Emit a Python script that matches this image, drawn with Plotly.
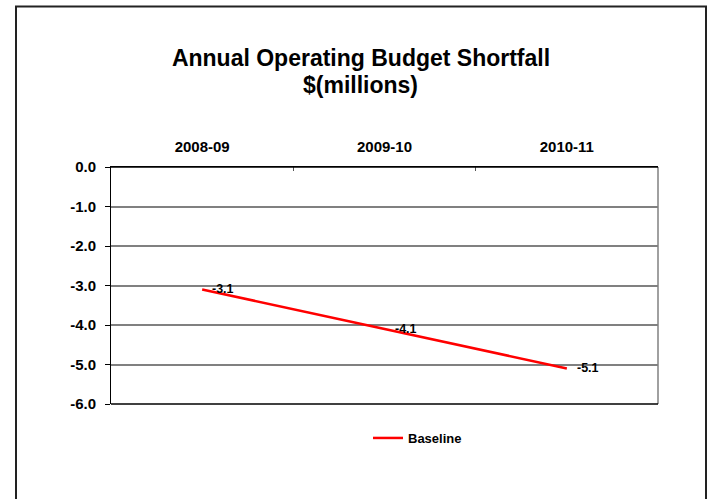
import plotly.graph_objects as go

# Budget shortfall by fiscal year, $ millions
years = ["2008-09", "2009-10", "2010-11"]
baseline = [-3.1, -4.1, -5.1]
y_ticks = [0, -1, -2, -3, -4, -5, -6]
y_tick_text = ["0.0", "-1.0", "-2.0", "-3.0", "-4.0", "-5.0", "-6.0"]

W, H = 713, 499
L, R, T, B = 111, 55, 167, 95
pw, ph = W - L - R, H - T - B

def px_x(x):
    return (x - L) / pw

def px_y(y):
    return (H - B - y) / ph

font = "Liberation Sans, Arial, sans-serif"

fig = go.Figure()
fig.add_trace(go.Scatter(
    x=years, y=baseline, mode="lines", name="Baseline",
    line=dict(color="#ff0000", width=2.5),
    cliponaxis=False,
))

# value labels to the right of each point
value_labels = [
    dict(text=f"<b>{v:.1f}</b>", x=c, y=v, xref="x", yref="y",
         xanchor="left", yanchor="middle", xshift=8, showarrow=False,
         font=dict(family=font, size=12.5, color="black"))
    for c, v in zip(years, baseline)
]

fig.update_layout(
    width=W, height=H,
    margin=dict(l=L, r=R, t=T, b=B),
    paper_bgcolor="white", plot_bgcolor="white",
    font=dict(family=font, color="black"),
    title=dict(
        text="<b>Annual Operating Budget Shortfall</b>",
        x=361 / W, xref="container", xanchor="center",
        y=1 - 58 / H, yref="container", yanchor="middle",
        font=dict(family=font, size=23, color="black"),
    ),
    annotations=[
        dict(text="<b>$(millions)</b>", xref="paper", yref="paper",
             x=px_x(360), y=px_y(85), xanchor="center", yanchor="middle",
             showarrow=False, font=dict(family=font, size=23, color="black")),
    ] + value_labels,
    showlegend=True,
    legend=dict(
        orientation="h", x=px_x(368), xanchor="left",
        y=px_y(438), yanchor="middle",
        font=dict(family=font, size=13, color="black", weight="bold"),
        itemwidth=30,
    ),
    xaxis=dict(
        side="top", type="category", tickson="boundaries",
        range=[-0.5, 2.5],
        ticks="inside", ticklen=4, tickcolor="#555",
        showline=True, linecolor="black", linewidth=1,
        showgrid=False, ticklabelstandoff=8,
        tickfont=dict(family=font, size=15, color="black", weight="bold"),
        fixedrange=True,
    ),
    yaxis=dict(
        range=[-6, 0], tickvals=y_ticks, ticktext=y_tick_text,
        ticks="outside", ticklen=5, tickcolor="black",
        showline=True, linecolor="black", linewidth=1,
        showgrid=True, gridcolor="#808080", gridwidth=1.5,
        zeroline=False, ticklabelstandoff=6,
        tickfont=dict(family=font, size=15, color="black", weight="bold"),
        fixedrange=True,
    ),
    shapes=[
        # outer chart frame
        dict(type="rect", xref="paper", yref="paper",
             x0=px_x(16), x1=px_x(706), y0=px_y(515), y1=px_y(6.5),
             line=dict(color="#222222", width=2), layer="below"),
        # right border of plot area
        dict(type="line", xref="paper", yref="paper",
             x0=1, x1=1, y0=0, y1=1, line=dict(color="#808080", width=1.5)),
        # bottom border of plot area
        dict(type="line", xref="paper", yref="paper",
             x0=0, x1=1, y0=0, y1=0, line=dict(color="black", width=1.5)),
        # top border of plot area
        dict(type="line", xref="paper", yref="paper",
             x0=0, x1=1, y0=1, y1=1, line=dict(color="black", width=1.5)),
    ],
)

fig.write_html("out.html")
